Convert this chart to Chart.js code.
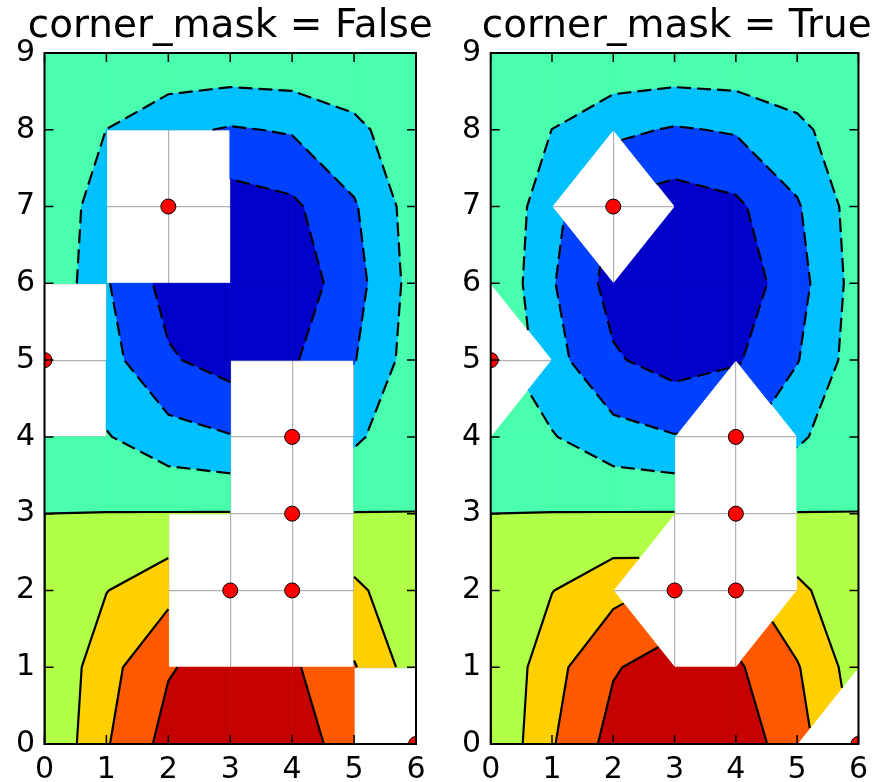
<!DOCTYPE html>
<html>
<head>
<meta charset="utf-8">
<script src="https://cdn.jsdelivr.net/npm/chart.js@4.4.1/dist/chart.umd.min.js"></script>
<style>
  html, body { margin: 0; padding: 0; background: #fff; overflow: hidden; }
  #wrap { position: relative; width: 876px; height: 782px; }
  .panel { position: absolute; top: 0; width: 438px; height: 782px; }
</style>
</head>
<body>
<div id="wrap">
  <div class="panel" style="left:0"><canvas id="left" width="438" height="782"></canvas></div>
  <div class="panel" style="left:438px"><canvas id="right" width="438" height="782"></canvas></div>
</div>
<script>
// grid coordinates
const xValues = [0, 1, 2, 3, 4, 5, 6];
const yValues = [0, 1, 2, 3, 4, 5, 6, 7, 8, 9];

// z value at each grid node, one row per y value
const zRows = [
  [0, 0.479, 0.841, 0.997, 0.909, 0.598, 0.141],
  [0, 0.416, 0.730, 0.866, 0.789, 0.519, 0.122],
  [0, 0.243, 0.426, 0.505, 0.460, 0.303, 0.071],
  [0, 0.005, 0.009, 0.011, 0.010, 0.006, 0.002],
  [0, -0.234, -0.410, -0.486, -0.443, -0.292, -0.069],
  [0, -0.411, -0.721, -0.855, -0.779, -0.513, -0.121],
  [0, -0.479, -0.841, -0.997, -0.909, -0.598, -0.141],
  [0, -0.421, -0.739, -0.876, -0.799, -0.526, -0.124],
  [0, -0.252, -0.442, -0.523, -0.477, -0.314, -0.074],
  [0, -0.016, -0.027, -0.032, -0.029, -0.019, -0.005]
];

// masked nodes (red dots)
const maskedX = [3, 4, 4, 4, 2, 0, 6];
const maskedY = [2, 2, 3, 4, 7, 5, 0];

const levels = [-1, -0.75, -0.5, -0.25, 0, 0.25, 0.5, 0.75, 1];
const bandColors = [
  "rgb(0,0,200)", "rgb(0,65,255)", "rgb(0,193,255)", "rgb(73,255,173)",
  "rgb(177,255,70)", "rgb(255,208,0)", "rgb(255,89,0)", "rgb(196,0,0)"
];
const xTicks = [0, 1, 2, 3, 4, 5, 6];
const yTicks = [0, 1, 2, 3, 4, 5, 6, 7, 8, 9];
const panelTitles = ["corner_mask = False", "corner_mask = True"];

const isMasked = (i, j) => maskedX.some((mx, k) => mx === i && maskedY[k] === j);

// quads (or triangles when only one corner is masked and corner masking is on)
function cellShapes(cornerMask) {
  const shapes = [];
  for (let j = 0; j < yValues.length - 1; j++) {
    for (let i = 0; i < xValues.length - 1; i++) {
      const corners = [[i, j], [i + 1, j], [i + 1, j + 1], [i, j + 1]];
      const kept = corners.filter(([a, b]) => !isMasked(a, b));
      if (kept.length === 4 || (cornerMask && kept.length === 3)) {
        shapes.push(kept.map(([a, b]) => ({ x: xValues[a], y: yValues[b], z: zRows[b][a] })));
      }
    }
  }
  return shapes;
}

const lerp = (a, b, t) => ({ x: a.x + t * (b.x - a.x), y: a.y + t * (b.y - a.y) });

function bandPolygon(shape, lo, hi) {
  const out = [];
  const n = shape.length;
  for (let k = 0; k < n; k++) {
    const a = shape[k], b = shape[(k + 1) % n];
    if (a.z > lo && a.z <= hi) out.push({ x: a.x, y: a.y });
    const cuts = [];
    [lo, hi].forEach((L) => {
      if ((a.z > L) !== (b.z > L)) cuts.push((L - a.z) / (b.z - a.z));
    });
    cuts.sort((p, q) => p - q);
    cuts.forEach((t) => out.push(lerp(a, b, t)));
  }
  return out;
}

function area(poly) {
  let s = 0;
  for (let k = 0; k < poly.length; k++) {
    const p = poly[k], q = poly[(k + 1) % poly.length];
    s += p.x * q.y - q.x * p.y;
  }
  return Math.abs(s / 2);
}

function levelSegments(shape, L) {
  const pts = [];
  const n = shape.length;
  for (let k = 0; k < n; k++) {
    const a = shape[k], b = shape[(k + 1) % n];
    if ((a.z > L) !== (b.z > L)) pts.push(lerp(a, b, (L - a.z) / (b.z - a.z)));
  }
  if (pts.length === 2) return [[pts[0], pts[1]]];
  if (pts.length === 4) {
    const mid = shape.reduce((s, p) => s + p.z, 0) / 4;
    if ((mid > L) === (shape[0].z > L)) return [[pts[0], pts[1]], [pts[2], pts[3]]];
    return [[pts[1], pts[2]], [pts[3], pts[0]]];
  }
  return [];
}

function chainSegments(segs) {
  const key = (p) => p.x.toFixed(6) + "," + p.y.toFixed(6);
  segs = segs.filter(([p, q]) => key(p) !== key(q));
  const used = segs.map(() => false);
  const chains = [];
  for (let s = 0; s < segs.length; s++) {
    if (used[s]) continue;
    used[s] = true;
    const chain = [segs[s][0], segs[s][1]];
    let grown = true;
    while (grown) {
      grown = false;
      for (let t = 0; t < segs.length; t++) {
        if (used[t]) continue;
        const [p, q] = segs[t];
        const head = key(chain[0]), tail = key(chain[chain.length - 1]);
        if (key(p) === tail) chain.push(q);
        else if (key(q) === tail) chain.push(p);
        else if (key(q) === head) chain.unshift(p);
        else if (key(p) === head) chain.unshift(q);
        else continue;
        used[t] = true;
        grown = true;
      }
    }
    chains.push(chain);
  }
  return chains;
}

function buildDatasets(cornerMask) {
  const shapes = cellShapes(cornerMask);
  const datasets = [];

  // red dots for masked points
  datasets.push({
    data: maskedX.map((x, k) => ({ x: x, y: maskedY[k] })),
    showLine: false,
    pointRadius: 7.5,
    pointBackgroundColor: "rgb(255,0,0)",
    pointBorderColor: "#000",
    pointBorderWidth: 1,
    clip: 0,
    order: 0
  });

  // contour lines
  levels.forEach((L) => {
    let segs = [];
    shapes.forEach((sh) => { segs = segs.concat(levelSegments(sh, L)); });
    chainSegments(segs).forEach((chain) => {
      datasets.push({
        data: chain,
        showLine: true,
        fill: false,
        pointRadius: 0,
        borderColor: "#000",
        borderWidth: 2.2,
        borderDash: L < 0 ? [14, 6] : [],
        tension: 0,
        order: 1
      });
    });
  });

  // filled bands
  for (let b = 0; b < bandColors.length; b++) {
    shapes.forEach((sh) => {
      const poly = bandPolygon(sh, levels[b], levels[b + 1]);
      if (poly.length < 3 || area(poly) < 1e-9) return;
      datasets.push({
        data: poly,
        showLine: true,
        fill: "shape",
        backgroundColor: bandColors[b],
        borderColor: bandColors[b],
        borderWidth: 1,
        pointRadius: 0,
        tension: 0,
        order: 2
      });
    });
  }
  return datasets;
}

// inward ticks on all four sides and the black frame
const frameTicks = {
  id: "frameTicks",
  afterDraw(chart) {
    const { ctx, chartArea: a, scales } = chart;
    ctx.save();
    ctx.strokeStyle = "#000";
    ctx.lineWidth = 1.5;
    ctx.beginPath();
    scales.x.ticks.forEach((t) => {
      const px = scales.x.getPixelForValue(t.value);
      ctx.moveTo(px, a.bottom); ctx.lineTo(px, a.bottom - 9);
      ctx.moveTo(px, a.top); ctx.lineTo(px, a.top + 9);
    });
    scales.y.ticks.forEach((t) => {
      const py = scales.y.getPixelForValue(t.value);
      ctx.moveTo(a.left, py); ctx.lineTo(a.left + 9, py);
      ctx.moveTo(a.right, py); ctx.lineTo(a.right - 9, py);
    });
    ctx.stroke();
    ctx.lineWidth = 2;
    ctx.strokeRect(a.left, a.top, a.right - a.left, a.bottom - a.top);
    ctx.restore();
  }
};

// side: room given to each (equal) side axis so the title box is wide enough
function makeChart(canvasId, cornerMask, title, areaLeft, areaRight, side) {
  const tickFont = { family: "DejaVu Sans", size: 30 };
  const canvas = document.getElementById(canvasId);
  return new Chart(canvas, {
    type: "scatter",
    data: { datasets: buildDatasets(cornerMask) },
    options: {
      responsive: false,
      devicePixelRatio: 1,
      animation: false,
      events: [],
      layout: {
        autoPadding: false,
        padding: { left: areaLeft - side, right: canvas.width - areaRight - side, top: 0, bottom: 0 }
      },
      plugins: {
        legend: { display: false },
        tooltip: { enabled: false },
        title: {
          display: true,
          text: title,
          color: "#000",
          font: { family: "DejaVu Sans", size: 39, weight: "normal", lineHeight: 1.2 },
          padding: { top: 3.1, bottom: 3.1 }
        }
      },
      scales: {
        x: {
          type: "linear",
          min: 0,
          max: 6,
          z: 1,
          afterBuildTicks: (s) => { s.ticks = xTicks.map((v) => ({ value: v })); },
          afterFit: (s) => { s.height = 38; },
          ticks: { autoSkip: false, color: "#000", font: tickFont, padding: 8, maxRotation: 0 },
          grid: { color: "rgba(0,0,0,0.3)", lineWidth: 1.2, drawTicks: false },
          border: { display: false }
        },
        y: {
          type: "linear",
          min: 0,
          max: 9,
          z: 1,
          afterBuildTicks: (s) => { s.ticks = yTicks.map((v) => ({ value: v })); },
          afterFit: (s) => { s.width = side; },
          // mirrored labels pushed back out to the left of the frame (avoids label clipping)
          ticks: { autoSkip: false, color: "#000", font: tickFont, mirror: true, crossAlign: "far", padding: -28.6 },
          grid: { color: "rgba(0,0,0,0.3)", lineWidth: 1.2, drawTicks: false },
          border: { display: false }
        },
        yBalance: {
          type: "linear",
          position: "right",
          min: 0,
          max: 1,
          afterFit: (s) => { s.width = side; },
          ticks: { display: false },
          grid: { display: false },
          border: { display: false }
        }
      }
    },
    plugins: [frameTicks]
  });
}

makeChart("left", false, panelTitles[0], 44.5, 416, 20);
makeChart("right", true, panelTitles[1], 490.7 - 438, 862.7 - 438, 10);
</script>
</body>
</html>
